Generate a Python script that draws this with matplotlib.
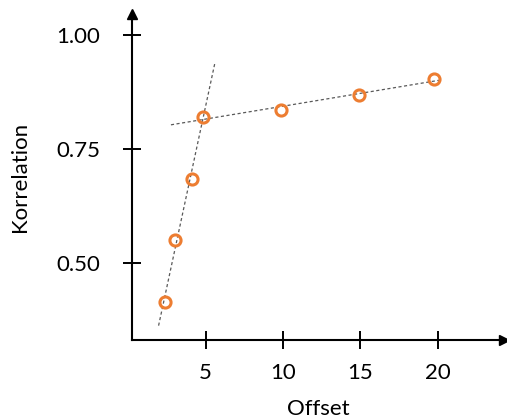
import matplotlib
matplotlib.use('Agg')
import matplotlib.pyplot as plt
import numpy

plt.rcParams['font.family'] = ['Lato', 'DejaVu Sans']

# data
offset = [2.35, 3.0, 4.1, 4.8, 9.9, 14.9, 19.8]
korrelation = [0.416, 0.551, 0.686, 0.821, 0.837, 0.870, 0.904]

# the two trend lines: steep part and flat part
steep_idx = [0, 1, 2, 3]
flat_idx = [3, 4, 5, 6]
steep_range = [1.95, 5.6]
flat_range = [2.75, 20.1]

xticks = [5, 10, 15, 20]
yticks = [0.50, 0.75, 1.00]

orange = '#ED7D31'

fig = plt.figure(figsize=(5.07, 4.17), dpi=100)
ax = fig.add_axes([132 / 507, 77 / 417, 372 / 507, 326 / 417])


def trend(idx, xr):
    xs = numpy.array([offset[i] for i in idx])
    ys = numpy.array([korrelation[i] for i in idx])
    k, d = numpy.polyfit(xs, ys, 1)
    xr = numpy.array(xr)
    ax.plot(xr, k * xr + d, linestyle=(0, (2.5, 2)), color='#595959',
            linewidth=0.9, zorder=2)


trend(steep_idx, steep_range)
trend(flat_idx, flat_range)

ax.plot(offset, korrelation, 'o', markersize=8, markerfacecolor='none',
        markeredgecolor=orange, markeredgewidth=2.2, zorder=3)

ax.set_xlim(0.23, 24.3)
ax.set_ylim(0.332, 1.047)
ax.set_xticks(xticks)
ax.set_xticklabels([str(t) for t in xticks])
ax.set_yticks(yticks)
ax.set_yticklabels(['%.2f' % t for t in yticks])

for side in ['top', 'right']:
    ax.spines[side].set_visible(False)
for side in ['left', 'bottom']:
    ax.spines[side].set_linewidth(1.5)

ax.tick_params(direction='inout', length=13.5, width=1.4, labelsize=16)
ax.tick_params(axis='y', pad=16)
ax.tick_params(axis='x', pad=10)

# arrow heads at the axis ends
ax.plot([0], [1], marker='^', color='black', markersize=7,
        transform=ax.transAxes, clip_on=False)
ax.plot([1], [0], marker='>', color='black', markersize=7,
        transform=ax.transAxes, clip_on=False)

ax.set_xlabel('Offset', fontsize=16, labelpad=11)
ax.set_ylabel('Korrelation', fontsize=16, labelpad=19)

fig.savefig('out.png', dpi=100)
plt.close()
